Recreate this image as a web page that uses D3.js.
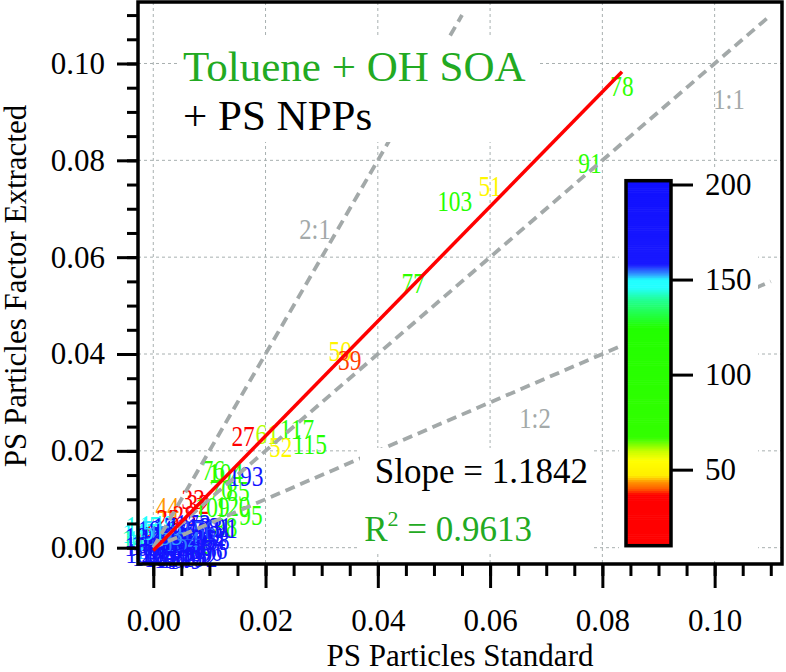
<!DOCTYPE html>
<meta charset="utf-8">
<style>
body { margin: 0; background: #fff; }
svg text { font-family: "Liberation Serif", "Times New Roman", serif; }
.grid line { stroke: #a8b0b0; stroke-width: 1; stroke-dasharray: 3,3; }
.ratio { fill: none; stroke: #a3a9a9; stroke-width: 3.8; stroke-dasharray: 10,6; }
.fit { fill: none; stroke: #ff0000; stroke-width: 3.5; }
.axis path { display: none; }
.axis line { stroke: #000; stroke-width: 3; }
.axis text { font-size: 31px; fill: #000; }
.ptlabel { font-size: 30px; }
.ratiolabel { font-size: 30px; fill: #a3a9a9; }
</style>
<svg width="786" height="672"></svg>
<script src="https://d3js.org/d3.v7.min.js"></script>
<script>
// point labels (the number shown is also the colour value)
var labels = [78, 91, 51, 103, 77, 50, 39, 27, 61, 117, 52, 115, 76, 104, 70, 85, 193,
  44, 33, 32, 109, 120, 95, 25, 28, 88, 82, 130, 18, 147, 141, 145, 148, 171, 173, 181, 183, 191, 162,
  150, 152, 155, 157, 159, 160, 163, 165, 166, 168, 170, 172, 174, 175, 177, 178, 180,
  182, 184, 185, 186, 187, 188, 189, 190, 192, 194, 195, 196, 197, 198, 199, 200,
  151, 153, 154, 156, 158, 161, 164, 167, 169, 176, 179];
var standard = [0.0835, 0.0778, 0.0600, 0.0537, 0.0463, 0.0333, 0.0350, 0.0160, 0.0203, 0.0256, 0.0227, 0.0279, 0.0107, 0.0129, 0.0121, 0.0151, 0.0165,
  0.0025, 0.0071, 0.0080, 0.0105, 0.0142, 0.0174, 0.0026, 0.0055, 0.0129, 0.0083, 0.0035, -0.0012, -0.0024, -0.0025, -0.0018, 0.0007, 0.0030, 0.0071, 0.0108, 0.0092, 0.0119, 0.0065,
  -0.0015, -0.0002, 0.0012, 0.0026, 0.0039, 0.0053, 0.0065, 0.0080, 0.0092, -0.0006, 0.0008, 0.0021, 0.0033, 0.0048, 0.0060, 0.0074, 0.0087,
  -0.0018, 0.0003, 0.0015, 0.0044, 0.0056, 0.0030, -0.0009, 0.0069, 0.0083, 0.0097, 0.0040, 0.0021, 0.0007, -0.0020, 0.0050, 0.0010,
  -0.0009, 0.0021, 0.0051, 0.0081, 0.0105, -0.0020, 0.0012, 0.0044, 0.0074, 0.0101, 0.0056];
var extracted = [0.0954, 0.0795, 0.0749, 0.0718, 0.0547, 0.0408, 0.0388, 0.0231, 0.0235, 0.0247, 0.0210, 0.0216, 0.0161, 0.0156, 0.0123, 0.0119, 0.0150,
  0.0086, 0.0101, 0.0092, 0.0086, 0.0088, 0.0068, 0.0061, 0.0068, 0.0043, 0.0008, 0.0010, 0.0030, 0.0032, 0.0020, 0.0045, 0.0047, 0.0043, 0.0049, 0.0043, 0.0043, 0.0041, 0.0006,
  0.0016, -0.0001, 0.0006, -0.0009, 0.0016, -0.0001, -0.0015, 0.0020, -0.0005, -0.0017, 0.0026, 0.0016, -0.0021, 0.0032, 0.0022, 0.0004, 0.0028,
  -0.0009, 0.0037, -0.0019, 0.0006, 0.0039, 0.0026, 0.0006, 0.0037, -0.0019, 0.0016, -0.0005, -0.0001, 0.0014, 0.0024, 0.0012, -0.0010,
  0.0037, 0.0028, 0.0014, 0.0037, 0.0016, 0.0004, -0.0011, -0.0021, -0.0009, -0.0001, -0.0023];

var xTicks = [0, 0.02, 0.04, 0.06, 0.08, 0.10];
var yTicks = [0, 0.02, 0.04, 0.06, 0.08, 0.10];
var minorTicks = d3.range(0, 0.1101, 0.005);
var cbTicks = [50, 100, 150, 200];
var cbRange = [10, 202];

var slope = 1.1842, intercept = -0.0006, r2 = "0.9613";
var fitX = [0, 0.0835];
var ratioNames = ["1:1", "2:1", "1:2"];
var ratioK = [1, 2, 0.5];
var ratioXmax = [0.11, 0.055, 0.11];

var colorStops = [10, 37, 40, 44, 47, 55, 60, 67, 125, 140, 146, 150, 153, 158, 202];
var colorVals = ["#ff0000", "#ff0000", "#ff5a00", "#ff9900", "#ffee00", "#ffff00", "#c8ff00", "#33ff00",
  "#22ff00", "#22ff99", "#22ffff", "#22ffff", "#3399ff", "#1818ff", "#1010ff"];

var svg = d3.select("svg");
var pL = 138, pR = 782, pT = 2, pB = 564;

var x = d3.scaleLinear().domain([-0.00272, 0.112]).range([pL, pR]);
var y = d3.scaleLinear().domain([-0.00337, 0.1127]).range([pB, pT]);
var color = d3.scaleLinear().domain(colorStops).range(colorVals).clamp(true);

// grid
var grid = svg.append("g").attr("class", "grid");
grid.selectAll(".gx").data(xTicks).enter().append("line")
    .attr("x1", d => x(d)).attr("x2", d => x(d)).attr("y1", pT).attr("y2", pB);
grid.selectAll(".gy").data(yTicks).enter().append("line")
    .attr("x1", pL).attr("x2", pR).attr("y1", d => y(d)).attr("y2", d => y(d));

// point labels
var pts = labels.map((d, i) => ({v: d, sx: standard[i], ey: extracted[i]}));
svg.append("g").selectAll("text").data(pts).enter().append("text")
    .attr("class", "ptlabel")
    .attr("transform", d => "translate(" + x(d.sx) + "," + y(d.ey) + ") scale(0.78,1)")
    .attr("text-anchor", "middle")
    .attr("dy", "0.35em")
    .attr("fill", d => color(d.v))
    .text(d => d.v);

// ratio lines
ratioK.forEach(function(k, i) {
  svg.append("line").attr("class", "ratio")
      .attr("x1", x(0)).attr("y1", y(0))
      .attr("x2", x(ratioXmax[i])).attr("y2", y(ratioXmax[i] * k));
});

// fit line
svg.append("path").attr("class", "fit")
    .attr("d", d3.line().x(d => x(d)).y(d => y(slope * d + intercept))(fitX));

// ratio labels
var ratioPos = [[729, 98], [315, 228], [535, 417]];
ratioNames.forEach(function(n, i) {
  svg.append("text").attr("class", "ratiolabel")
      .attr("transform", "translate(" + ratioPos[i][0] + "," + ratioPos[i][1] + ") scale(0.82,1)")
      .attr("text-anchor", "middle").attr("dy", "0.35em").text(n);
});

// title box
svg.append("rect").attr("x", 180).attr("y", 38).attr("width", 360).attr("height", 104).attr("fill", "#fff");
svg.append("text").attr("x", 183).attr("y", 81).attr("font-size", 43).attr("fill", "#22aa22").text("Toluene + OH SOA");
svg.append("text").attr("x", 183).attr("y", 130).attr("font-size", 43).attr("fill", "#000").text("+ PS NPPs");

// slope box
svg.append("rect").attr("x", 360).attr("y", 448).attr("width", 232).attr("height", 104).attr("fill", "#fff");
svg.append("text").attr("x", 588).attr("y", 483).attr("font-size", 35).attr("text-anchor", "end")
    .text("Slope = " + slope.toFixed(4));
var rt = svg.append("text").attr("x", 532).attr("y", 541).attr("font-size", 35)
    .attr("text-anchor", "end").attr("fill", "#22aa22");
rt.append("tspan").text("R");
rt.append("tspan").attr("font-size", 22).attr("dy", -15).text("2");
rt.append("tspan").attr("dy", 15).text(" = " + r2);

// colour bar
var cbLeft = 626, cbW = 45;
var cbY = d3.scaleLinear().domain(cbRange).range([545.7, 180.7]);
svg.append("rect").attr("x", 619).attr("y", 170).attr("width", 139).attr("height", 391).attr("fill", "#fff");
svg.append("g").selectAll("rect").data(d3.range(cbRange[0], cbRange[1])).enter().append("rect")
    .attr("x", cbLeft).attr("width", cbW)
    .attr("y", d => cbY(d + 1)).attr("height", d => cbY(d) - cbY(d + 1) + 0.6)
    .attr("fill", d => color(d + 0.5));
svg.append("rect").attr("x", cbLeft).attr("y", cbY(cbRange[1])).attr("width", cbW)
    .attr("height", cbY(cbRange[0]) - cbY(cbRange[1]))
    .attr("fill", "none").attr("stroke", "#000").attr("stroke-width", 3.5);
svg.append("g").attr("class", "axis")
    .attr("transform", "translate(" + (cbLeft + cbW) + ",0)")
    .call(d3.axisRight(cbY).tickValues(cbTicks).tickSize(22).tickPadding(12))
    .selectAll("text").attr("font-size", 30);

// axes
var xa = svg.append("g").attr("class", "axis").attr("transform", "translate(0," + pB + ")");
xa.call(d3.axisBottom(x).tickValues(minorTicks).tickSize(12).tickFormat(""));
var xb = svg.append("g").attr("class", "axis").attr("transform", "translate(0," + pB + ")");
xb.call(d3.axisBottom(x).tickValues(xTicks).tickSize(24).tickFormat(d3.format(".2f")));
xb.selectAll("text").attr("y", 67).attr("dy", null);

var ya = svg.append("g").attr("class", "axis").attr("transform", "translate(" + pL + ",0)");
ya.call(d3.axisLeft(y).tickValues(minorTicks).tickSize(11).tickFormat(""));
var yb = svg.append("g").attr("class", "axis").attr("transform", "translate(" + pL + ",0)");
yb.call(d3.axisLeft(y).tickValues(yTicks).tickSize(21).tickFormat(d3.format(".2f")));
yb.selectAll("text").attr("x", -33);

svg.append("rect").attr("x", pL).attr("y", pT).attr("width", pR - pL).attr("height", pB - pT)
    .attr("fill", "none").attr("stroke", "#000").attr("stroke-width", 3.5);

svg.append("text").attr("x", (pL + pR) / 2).attr("y", 666).attr("font-size", 31)
    .attr("text-anchor", "middle").text("PS Particles Standard");
svg.append("text").attr("transform", "translate(26," + ((pT + pB) / 2 + 3) + ") rotate(-90)")
    .attr("font-size", 31).attr("text-anchor", "middle").text("PS Particles Factor Extracted");
</script>
